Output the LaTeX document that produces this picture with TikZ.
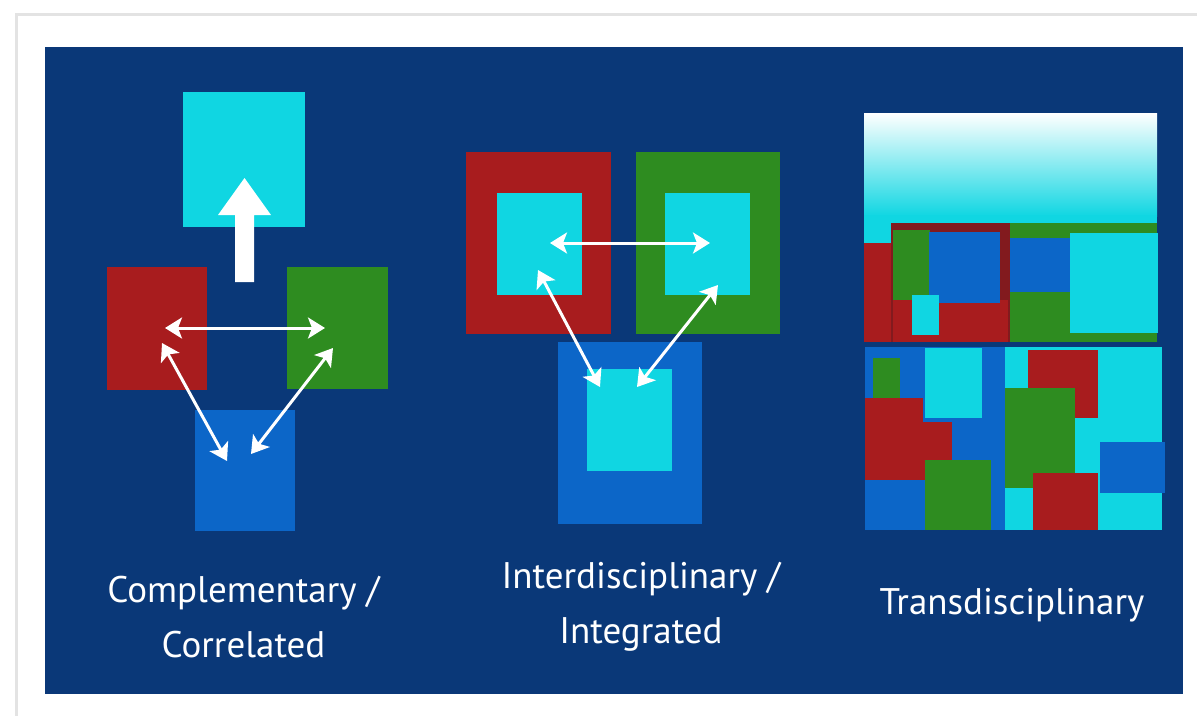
\documentclass[tikz,border=0pt]{standalone}
\usepackage{fontspec}
\setmainfont{PT Sans}
\usetikzlibrary{arrows.meta}
\definecolor{panelblue}{RGB}{10,56,120}
\definecolor{boxcyan}{RGB}{16,214,226}
\definecolor{boxred}{RGB}{168,28,30}
\definecolor{darkred}{RGB}{130,26,30}
\definecolor{boxgreen}{RGB}{46,140,32}
\definecolor{boxblue}{RGB}{12,102,200}
\tikzset{
  block/.style={fill=#1, inner sep=0pt, outer sep=0pt},
  link/.style={{Stealth[length=17pt,width=21pt,inset=4pt]}-{Stealth[length=17pt,width=21pt,inset=4pt]}, line width=3pt, white},
  title/.style={text=white, align=center, font=\fontsize{37}{55}\selectfont}
}
\begin{document}
\begin{tikzpicture}[x=1pt,y=-1pt]
    \useasboundingbox (0,0) rectangle (1197,716);
    \fill[white] (0,0) rectangle (1197,716);
    \draw[gray!22, line width=3pt] (16,716) -- (16,14) -- (1197,14);
    \fill[panelblue] (45,47) rectangle (1183,694);

    % complementary / correlated
    \node[block=boxcyan, minimum width=122pt, minimum height=135pt] (goal) at (244,159.5) {};
    \node[block=boxred, minimum width=100pt, minimum height=123pt] (red1) at (157,328.5) {};
    \node[block=boxgreen, minimum width=101pt, minimum height=122pt] (green1) at (337.5,328) {};
    \node[block=boxblue, minimum width=100pt, minimum height=121pt] (blue1) at (245,470.5) {};
    \fill[white] (235,282) -- (235,215) -- (218,215) -- (244.5,178) -- (271,215) -- (254,215) -- (254,282) -- cycle;
    \coordinate (r1a) at (165,328);  \coordinate (g1a) at (325,328);
    \coordinate (r1b) at (162,343);  \coordinate (b1a) at (227,461);
    \coordinate (g1b) at (333,348);  \coordinate (b1b) at (251,454);
    \draw[link] (r1a) -- (g1a);
    \draw[link] (r1b) -- (b1a);
    \draw[link] (g1b) -- (b1b);
    \node[title] (compl) at (243.5,617) {Complementary /\\Correlated};

    % interdisciplinary / integrated
    \node[block=boxred, minimum width=145pt, minimum height=182pt] (red2) at (538.5,243) {};
    \node[block=boxcyan, minimum width=85pt, minimum height=102pt] (red2in) at (539.5,244) {};
    \node[block=boxgreen, minimum width=144pt, minimum height=182pt] (green2) at (708,243) {};
    \node[block=boxcyan, minimum width=85pt, minimum height=102pt] (green2in) at (707.5,244) {};
    \node[block=boxblue, minimum width=144pt, minimum height=182pt] (blue2) at (630,433) {};
    \node[block=boxcyan, minimum width=85pt, minimum height=102pt] (blue2in) at (629.5,420) {};
    \coordinate (r2a) at (550,243);  \coordinate (g2a) at (710,243);
    \coordinate (r2b) at (538,270);  \coordinate (b2a) at (600,387);
    \coordinate (g2b) at (718,285);  \coordinate (b2b) at (637,387);
    \draw[link] (r2a) -- (g2a);
    \draw[link] (r2b) -- (b2a);
    \draw[link] (g2b) -- (b2b);
    \node[title] (inter) at (641,607) {Interdisciplinary /\\Integrated};

    % transdisciplinary
    \shade[top color=white, bottom color=boxcyan] (864,113) rectangle (1157,216);
    \fill[boxcyan] (864,215) rectangle (1157,245);
    \fill[boxred] (864,243) rectangle (893,342);
    \fill[darkred] (891,223) rectangle (1010,342);
    \fill[boxred] (893,300) rectangle (1008,342);
    \fill[boxgreen] (893,230) rectangle (930,300);
    \fill[boxblue] (929,232) rectangle (1000,303);
    \fill[boxcyan] (912,295) rectangle (939,335);
    \fill[boxgreen] (1010,223) rectangle (1157,342);
    \fill[boxblue] (1010,238) rectangle (1071,292);
    \fill[boxcyan] (1070,233) rectangle (1158,333);
    \fill[boxblue] (865,347) rectangle (1005,530);
    \fill[boxgreen] (873,358) rectangle (900,400);
    \fill[boxcyan] (925,348) rectangle (982,418);
    \fill[boxred] (865,398) rectangle (923,480);
    \fill[boxred] (865,422) rectangle (952,480);
    \fill[boxgreen] (925,460) rectangle (991,530);
    \fill[boxcyan] (1005,347) rectangle (1162,530);
    \fill[boxred] (1028,350) rectangle (1098,418);
    \fill[boxgreen] (1005,388) rectangle (1075,488);
    \fill[boxred] (1033,473) rectangle (1098,530);
    \fill[boxblue] (1100,442) rectangle (1165,493);
    \node[title] (trans) at (1012,605) {Transdisciplinary};
\end{tikzpicture}
\end{document}
